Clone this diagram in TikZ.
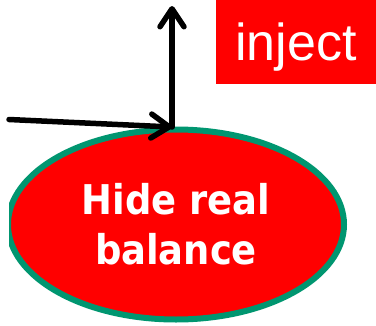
\documentclass[tikz,border=0pt]{standalone}
\usepackage{fontspec}
\setmainfont{Liberation Sans}
\newfontfamily\ovalfont{DejaVu Sans Condensed}
\usetikzlibrary{shapes.geometric,arrows.meta}
\definecolor{alarmred}{RGB}{255,0,0}
\definecolor{rimgreen}{RGB}{0,150,112}
\tikzset{
  flow/.style={line width=5.5pt, line cap=round, line join=round,
    -{Straight Barb[length=18pt,width=24pt,round]}},
  tagbox/.style={rectangle, fill=alarmred, text=white, inner sep=0pt,
    minimum width=160pt, text height=60pt, text depth=23.5pt,
    font=\fontsize{52}{56}\selectfont},
  oval/.style={ellipse, fill=alarmred, draw=rimgreen, line width=6pt,
    minimum width=336pt, minimum height=190pt, inner sep=0pt,
    text=white, align=center,
    font=\ovalfont\bfseries\fontsize{41}{50}\selectfont}
}
\begin{document}
\begin{tikzpicture}[x=1pt,y=-1pt]
  \useasboundingbox (0,0) rectangle (376,325);
  % "inject" tag in the top right corner
  \node[tagbox, anchor=base] (tag) at (296,60) {inject};
  \begin{scope}
    \clip (9,0) rectangle (376,325);
    \node[oval] (hide) at (176,224.5) {Hide real\\balance};
  \end{scope}
  \coordinate (join) at (172,127);
  \coordinate (src) at (9,119.5);
  \coordinate (up) at (172,6);
  \draw[flow] (src) -- (join);
  \draw[flow] (join) -- (up);
\end{tikzpicture}
\end{document}
